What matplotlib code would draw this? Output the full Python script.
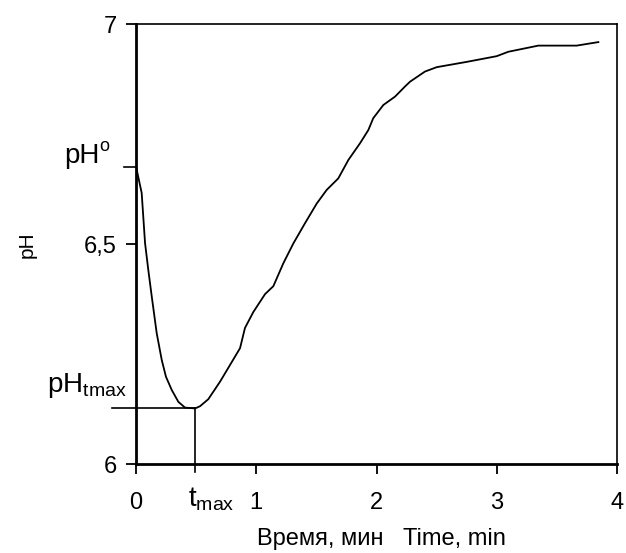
import numpy as np
import matplotlib
matplotlib.use('Agg')
import matplotlib.pyplot as plt

plt.rcParams['font.family'] = ['Liberation Sans', 'DejaVu Sans']
plt.rcParams['mathtext.fontset'] = 'custom'
plt.rcParams['mathtext.rm'] = 'Liberation Sans'
plt.rcParams['mathtext.it'] = 'Liberation Sans'

# время, мин
t = [0.0, 0.047, 0.075, 0.102, 0.131, 0.172, 0.214, 0.249, 0.297, 0.352,
     0.407, 0.491, 0.532, 0.601, 0.699, 0.782, 0.865, 0.906, 0.975, 1.073,
     1.142, 1.225, 1.308, 1.405, 1.503, 1.586, 1.682, 1.766, 1.863, 1.932,
     1.973, 2.057, 2.154, 2.237, 2.279, 2.403, 2.501, 2.750, 3.000, 3.096,
     3.346, 3.665, 3.845]
# pH
ph = [6.677, 6.617, 6.503, 6.442, 6.381, 6.298, 6.237, 6.199, 6.169, 6.142,
      6.129, 6.127, 6.132, 6.148, 6.188, 6.226, 6.264, 6.310, 6.346, 6.387,
      6.405, 6.457, 6.502, 6.548, 6.593, 6.624, 6.650, 6.692, 6.730, 6.760,
      6.787, 6.817, 6.836, 6.859, 6.870, 6.893, 6.903, 6.915, 6.928, 6.938,
      6.952, 6.952, 6.960]

ph0 = 6.677
t_max = 0.491
ph_tmax = 6.127

xticks = [0, 1, 2, 3, 4]
yticks = [6, 6.5, 7]
ytick_labels = ['6', '6,5', '7']

fig = plt.figure(figsize=(6.26, 5.53), dpi=100)
ax = fig.add_axes([0.2173, 0.1604, 0.7683, 0.7953])

ax.plot(t, ph, color='black', lw=1.3)

# линии для pH(tmax) и tmax
ax.plot([-0.2, t_max], [ph_tmax, ph_tmax], color='black', lw=1.2, clip_on=False)
ax.plot([t_max, t_max], [ph_tmax, 5.982], color='black', lw=1.2, clip_on=False)
# метка pH0
ax.plot([-0.1, 0], [ph0, ph0], color='black', lw=1.2, clip_on=False)

ax.set_xlim(0, 4)
ax.set_ylim(6, 7)
ax.set_xticks(xticks)
ax.set_xticklabels([str(v) for v in xticks])
ax.set_yticks(yticks)
ax.set_yticklabels(ytick_labels)

ax.tick_params(axis='x', direction='out', length=7, width=1.3, pad=13, labelsize=17)
ax.tick_params(axis='y', direction='out', length=7, width=1.3, pad=7, labelsize=17)

for s in ['left', 'bottom']:
    ax.spines[s].set_linewidth(2)
for s in ['top', 'right']:
    ax.spines[s].set_linewidth(1.2)

ax.set_xlabel('Время, мин   Time, min', fontsize=17, labelpad=10)
ax.xaxis.set_label_coords(0.51, -0.145)
ax.set_ylabel('pH', fontsize=15, labelpad=34)

ax.text(-0.6, 6.685, 'pH', fontsize=20, va='baseline', ha='left')
ax.text(-0.305, 6.713, 'o', fontsize=13, va='baseline', ha='left')
ax.text(-0.74, 6.165, r'pH$_{\mathrm{tmax}}$', fontsize=20, va='baseline', ha='left')
ax.text(0.43, 5.905, r't$_{\mathrm{max}}$', fontsize=20, va='baseline', ha='left')

fig.savefig('out.png', dpi=100)
